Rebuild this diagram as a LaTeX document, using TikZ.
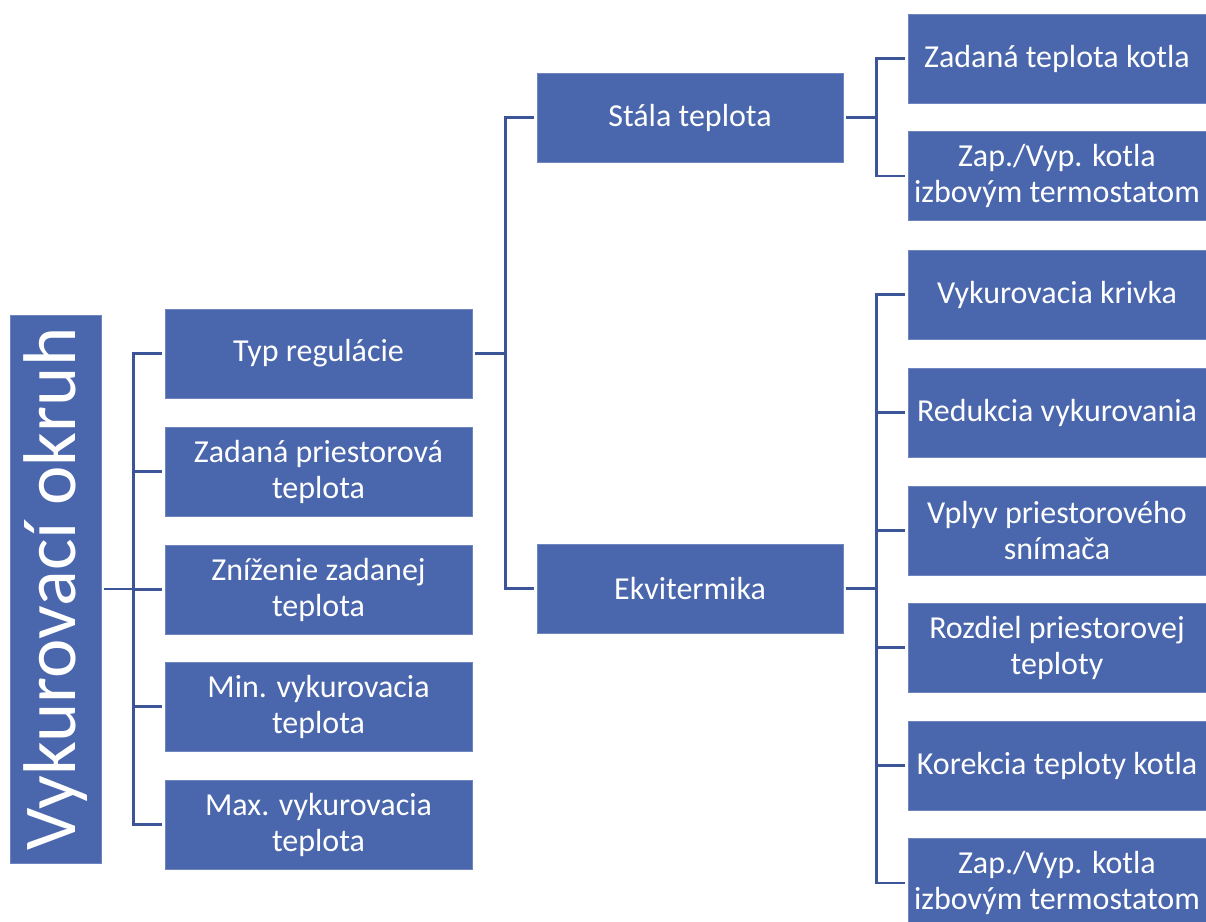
\documentclass[tikz,border=0pt]{standalone}
\usepackage{fontspec}
\setmainfont{Carlito}
\definecolor{boxblue}{RGB}{74,102,172}
\definecolor{linkblue}{RGB}{60,84,152}
\begin{document}
\begin{tikzpicture}[x=0.75pt,y=-0.75pt,
  box/.style={fill=boxblue,draw=boxblue!80!white,line width=0.4pt,text=white,align=center,
    inner sep=0pt,font=\fontsize{24}{27}\selectfont},
  lvlone/.style={box,minimum width=307*0.75pt,minimum height=89*0.75pt},
  lvltwo/.style={box,minimum width=306*0.75pt,minimum height=89*0.75pt},
  lvlthree/.style={box,minimum width=298*0.75pt,minimum height=89*0.75pt},
  link/.style={draw=linkblue,line width=2pt}]
\clip (0,0) rectangle (1206,921);
\fill[white] (0,0) rectangle (1206,921);
% root
\node[box,minimum width=91*0.75pt,minimum height=548*0.75pt] (root) at (55.5,589) {};
\node[text=white,rotate=90,font=\fontsize{56}{60}\selectfont,inner sep=0pt] (roottext) at (root.center) {Vykurovací okruh};
% level 1
\node[lvlone] (typ) at (318.5,353.5) {Typ regulácie};
\node[lvlone] (zad) at (318.5,471.5) {Zadaná priestorová\\teplota};
\node[lvlone] (zni) at (318.5,589.5) {Zníženie zadanej\\teplota};
\node[lvlone] (min) at (318.5,706.5) {Min. vykurovacia\\teplota};
\node[lvlone] (max) at (318.5,824.5) {Max. vykurovacia\\teplota};
% level 2
\node[lvltwo] (stala) at (690,117.5) {Stála teplota};
\node[lvltwo] (ekvi) at (690,588.5) {Ekvitermika};
% level 3 under Stala
\node[lvlthree] (s1) at (1057,58.5) {Zadaná teplota kotla};
\node[lvlthree] (s2) at (1057,176) {Zap./Vyp. kotla\\izbovým termostatom};
% level 3 under Ekvitermika
\node[lvlthree] (e1) at (1057,294.5) {Vykurovacia krivka};
\node[lvlthree] (e2) at (1057,412.5) {Redukcia vykurovania};
\node[lvlthree] (e3) at (1057,530.5) {Vplyv priestorového\\snímača};
\node[lvlthree] (e4) at (1057,647.5) {Rozdiel priestorovej\\teploty};
\node[lvlthree] (e5) at (1057,765.5) {Korekcia teploty kotla};
\node[lvlthree] (e6) at (1057,883) {Zap./Vyp. kotla\\izbovým termostatom};
% connectors
\foreach \c in {typ,zad,zni,min,max}
  \draw[link,shorten <=2pt,shorten >=2pt] (root.east) -- ++(32,0) |- (\c.west);
\foreach \c in {stala,ekvi}
  \draw[link,shorten <=2pt,shorten >=2pt] (typ.east) -- ++(33,0) |- (\c.west);
\foreach \c in {s1,s2}
  \draw[link,shorten <=2pt,shorten >=2pt] (stala.east) -- ++(33,0) |- (\c.west);
\foreach \c in {e1,e2,e3,e4,e5,e6}
  \draw[link,shorten <=2pt,shorten >=2pt] (ekvi.east) -- ++(33,0) |- (\c.west);
\end{tikzpicture}
\end{document}
